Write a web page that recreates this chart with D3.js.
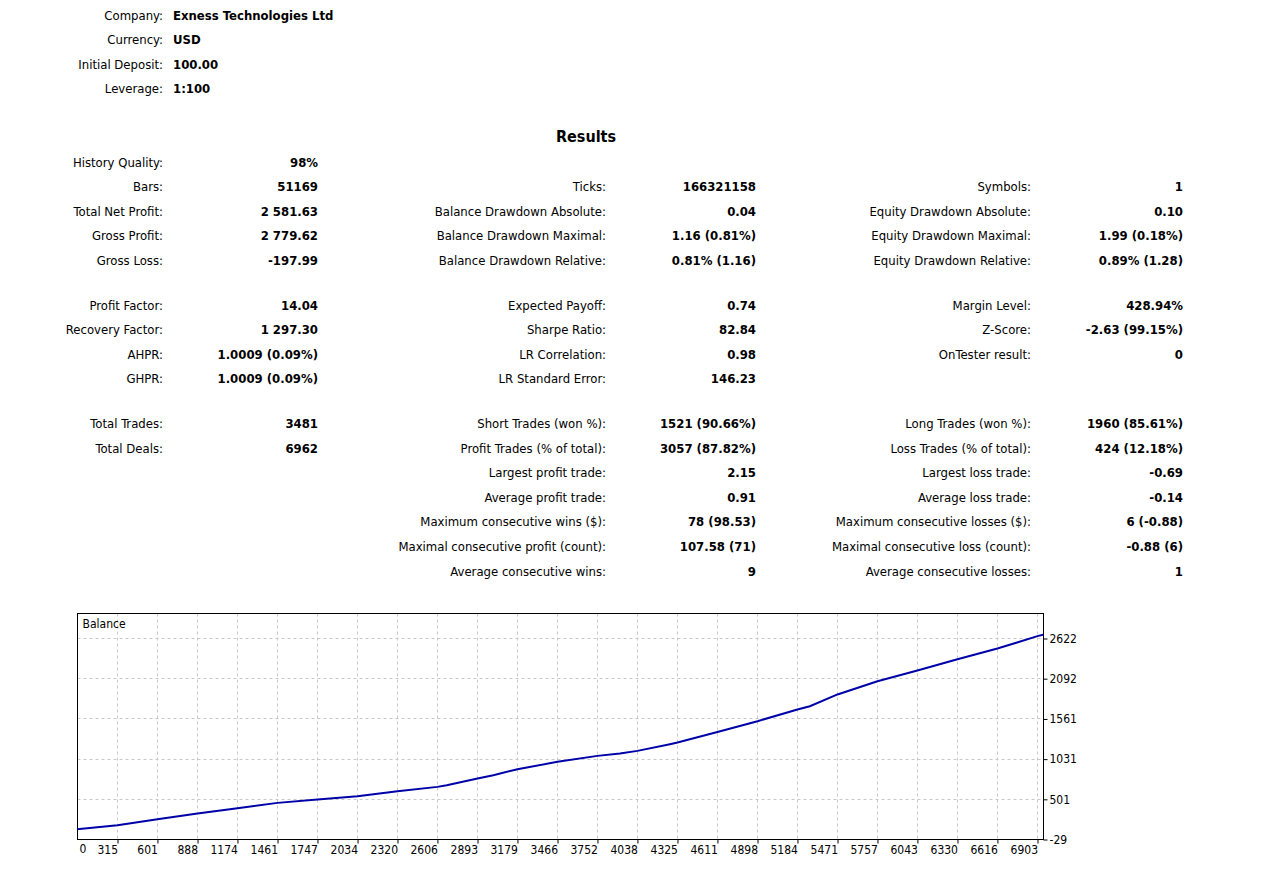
<!DOCTYPE html>
<html>
<head>
<meta charset="utf-8">
<script src="https://cdn.jsdelivr.net/npm/d3@7"></script>
<style>
  html, body { margin: 0; padding: 0; background: #fff; }
  svg { display: block; }
  .lbl { font-family: "DejaVu Sans Condensed", "DejaVu Sans", sans-serif; font-stretch: condensed; font-size: 13px; fill: #000; }
  .val { font-family: "DejaVu Sans Condensed", "DejaVu Sans", sans-serif; font-stretch: condensed; font-size: 13px; font-weight: bold; fill: #000; }
  .ax { font-family: "DejaVu Sans Condensed", "DejaVu Sans", sans-serif; font-stretch: condensed; font-size: 12px; fill: #000; }
</style>
</head>
<body>
<svg id="chart" width="1265" height="880"></svg>
<script>
// ---------- data ----------
const headerLabels = ["Company:", "Currency:", "Initial Deposit:", "Leverage:"];
const headerValues = ["Exness Technologies Ltd", "USD", "100.00", "1:100"];

const titleText = "Results";

const col1Rows = [0,1,2,3,4,5,6,7,8,9,10];
const col1Labels = ["History Quality:", "Bars:", "Total Net Profit:", "Gross Profit:", "Gross Loss:",
  "Profit Factor:", "Recovery Factor:", "AHPR:", "GHPR:", "Total Trades:", "Total Deals:"];
const col1Values = ["98%", "51169", "2 581.63", "2 779.62", "-197.99",
  "14.04", "1 297.30", "1.0009 (0.09%)", "1.0009 (0.09%)", "3481", "6962"];

const col2Rows = [1,2,3,4,5,6,7,8,9,10,11,12,13,14,15];
const col2Labels = ["Ticks:", "Balance Drawdown Absolute:", "Balance Drawdown Maximal:", "Balance Drawdown Relative:",
  "Expected Payoff:", "Sharpe Ratio:", "LR Correlation:", "LR Standard Error:",
  "Short Trades (won %):", "Profit Trades (% of total):", "Largest profit trade:", "Average profit trade:",
  "Maximum consecutive wins ($):", "Maximal consecutive profit (count):", "Average consecutive wins:"];
const col2Values = ["166321158", "0.04", "1.16 (0.81%)", "0.81% (1.16)",
  "0.74", "82.84", "0.98", "146.23",
  "1521 (90.66%)", "3057 (87.82%)", "2.15", "0.91",
  "78 (98.53)", "107.58 (71)", "9"];

const col3Rows = [1,2,3,4,5,6,7,9,10,11,12,13,14,15];
const col3Labels = ["Symbols:", "Equity Drawdown Absolute:", "Equity Drawdown Maximal:", "Equity Drawdown Relative:",
  "Margin Level:", "Z-Score:", "OnTester result:",
  "Long Trades (won %):", "Loss Trades (% of total):", "Largest loss trade:", "Average loss trade:",
  "Maximum consecutive losses ($):", "Maximal consecutive loss (count):", "Average consecutive losses:"];
const col3Values = ["1", "0.10", "1.99 (0.18%)", "0.89% (1.28)",
  "428.94%", "-2.63 (99.15%)", "0",
  "1960 (85.61%)", "424 (12.18%)", "-0.69", "-0.14",
  "6 (-0.88)", "-0.88 (6)", "1"];

// balance curve (deal number, balance)
const dealNumbers = [0, 315, 601, 888, 1174, 1461, 1747, 2034, 2320, 2606, 2673, 2893, 3006, 3179, 3466,
  3752, 3913, 4038, 4271, 4325, 4611, 4898, 5184, 5273, 5471, 5757, 6043, 6330, 6616, 6757, 6903, 6962];
const balanceValues = [100, 160, 239, 314, 384, 454, 499, 542, 608, 665, 687, 776, 819, 898, 995,
  1074, 1105, 1140, 1228, 1250, 1390, 1531, 1686, 1729, 1884, 2059, 2200, 2349, 2490, 2569, 2653, 2682];

const xTickLabels = ["0", "315", "601", "888", "1174", "1461", "1747", "2034", "2320", "2606", "2893", "3179",
  "3466", "3752", "4038", "4325", "4611", "4898", "5184", "5471", "5757", "6043", "6330", "6616", "6903"];
const yTickLabels = ["-29", "501", "1031", "1561", "2092", "2622"];
const chartLabel = "Balance";

// ---------- layout ----------
const svg = d3.select("#chart");

// header
const hdr = svg.append("g");
headerLabels.forEach((t, i) => {
  const y = 15 + i * 24.6;
  hdr.append("text").attr("class", "lbl").attr("x", 163).attr("y", y).attr("dy", "0.36em")
    .attr("text-anchor", "end").text(t);
  hdr.append("text").attr("class", "val").attr("x", 173).attr("y", y).attr("dy", "0.36em")
    .text(headerValues[i]);
});

svg.append("text").attr("class", "val").attr("x", 586).attr("y", 136).attr("dy", "0.36em")
  .attr("text-anchor", "middle").style("font-size", "16px").text(titleText);

const rowY = i => 162 + i * 24.55 + (i >= 5 ? 20.3 : 0) + (i >= 9 ? 20.3 : 0);

function column(rows, labels, values, labelRight, valueRight) {
  const g = svg.append("g");
  rows.forEach((r, i) => {
    g.append("text").attr("class", "lbl").attr("x", labelRight).attr("y", rowY(r)).attr("dy", "0.36em")
      .attr("text-anchor", "end").text(labels[i]);
    g.append("text").attr("class", "val").attr("x", valueRight).attr("y", rowY(r)).attr("dy", "0.36em")
      .attr("text-anchor", "end").text(values[i]);
  });
}
column(col1Rows, col1Labels, col1Values, 163, 318);
column(col2Rows, col2Labels, col2Values, 606, 756);
column(col3Rows, col3Labels, col3Values, 1031, 1183);

// ---------- chart ----------
const L = 77.5, R = 1043.5, T = 613.5, B = 839.5;
const xTickVals = xTickLabels.map(Number);
const yTickVals = yTickLabels.map(Number);

const x = d3.scaleLinear().domain([28.56, 6946]).range([L, R]);
const y = d3.scaleLinear().domain([-29, 2951.7]).range([B, T]);

const chart = svg.append("g");
chart.append("clipPath").attr("id", "clip").append("rect")
  .attr("x", L).attr("y", T).attr("width", R - L).attr("height", B - T);

// grid
const grid = chart.append("g").attr("stroke", "#c8c8c8").attr("stroke-width", 1).attr("stroke-dasharray", "3,3");
xTickVals.slice(1).forEach(v => {
  const px = Math.round(x(v) - 0.5) + 0.5;
  grid.append("line").attr("x1", px).attr("x2", px).attr("y1", T).attr("y2", B);
});
yTickVals.slice(1).forEach(v => {
  const py = Math.round(y(v) - 0.5) + 0.5;
  grid.append("line").attr("x1", L).attr("x2", R).attr("y1", py).attr("y2", py);
});

// x axis
const xAxis = d3.axisBottom(x).tickValues(xTickVals.slice(1)).tickSize(4).tickPadding(0)
  .tickFormat((d, i) => xTickLabels[i + 1]);
const xg = chart.append("g").attr("transform", `translate(0,${B})`).call(xAxis);
xg.select(".domain").remove();
xg.selectAll("line").attr("stroke", "#000");
xg.selectAll("text").attr("class", "ax").attr("text-anchor", "end").attr("dx", "0").attr("y", 0).attr("dy", "1.0em")
  .attr("transform", "translate(0,2)").style("font-size", null).style("font-family", null);
xg.attr("font-size", null).attr("font-family", null);
chart.append("text").attr("class", "ax").attr("x", L + 2).attr("y", B + 9).attr("dy", "0.36em").text(xTickLabels[0]);

// y axis (right)
const yAxis = d3.axisRight(y).tickValues(yTickVals).tickSize(4).tickPadding(2)
  .tickFormat((d, i) => yTickLabels[i]);
const yg = chart.append("g").attr("transform", `translate(${R},0)`).call(yAxis);
yg.select(".domain").remove();
yg.selectAll("line").attr("stroke", "#000");
yg.selectAll("text").attr("class", "ax");
yg.attr("font-size", null).attr("font-family", null);

// frame
chart.append("rect").attr("x", L).attr("y", T).attr("width", R - L).attr("height", B - T)
  .attr("fill", "none").attr("stroke", "#000").attr("stroke-width", 1);

chart.append("text").attr("class", "ax").attr("x", L + 5).attr("y", T + 10).attr("dy", "0.36em").text(chartLabel);

// balance line
const pts = dealNumbers.map((d, i) => [d, balanceValues[i]]);
chart.append("path").datum(pts).attr("clip-path", "url(#clip)")
  .attr("fill", "none").attr("stroke", "#0000a8").attr("stroke-width", 2)
  .attr("d", d3.line().x(d => x(d[0])).y(d => y(d[1])));
</script>
</body>
</html>
